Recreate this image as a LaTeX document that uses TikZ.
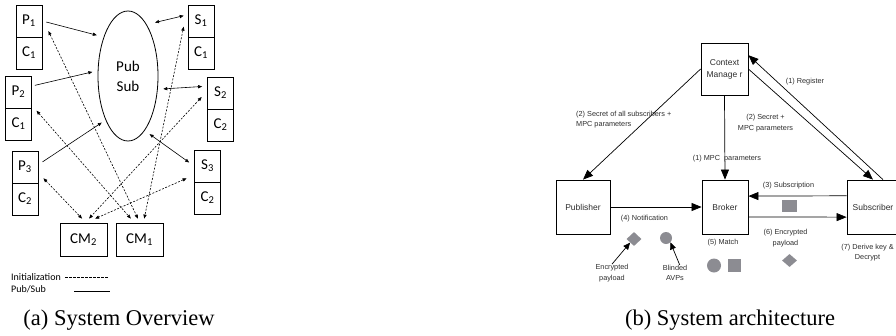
\documentclass[tikz,border=0pt]{standalone}
\usepackage{fontspec}
\newfontfamily\calibri{Carlito}
\newfontfamily\arialfont{Liberation Sans}
\newfontfamily\capfont{Liberation Serif}
\usetikzlibrary{arrows.meta,shapes.geometric,positioning}
\definecolor{tokengray}{RGB}{140,140,146}
\definecolor{textgray}{RGB}{45,45,45}

\begin{document}
\begin{tikzpicture}[x=1pt, y=-1pt, on grid,
  cell/.style={draw, line width=0.8pt, minimum width=26pt, minimum height=32pt,
    inner sep=0pt, font=\calibri\fontsize{15}{18}\selectfont},
  cmbox/.style={cell, minimum width=47pt, minimum height=33pt},
  ps/.style={line width=0.6pt, -{Triangle[length=4pt,width=3.2pt]}},
  psboth/.style={ps, {Triangle[length=4pt,width=3.2pt]}-{Triangle[length=4pt,width=3.2pt]}},
  init/.style={line width=0.6pt, dash pattern=on 2pt off 1.5pt,
    {Triangle[length=4pt,width=3.2pt]}-{Triangle[length=4pt,width=3.2pt]}},
  legend/.style={font=\calibri\fontsize{10}{12}\selectfont, inner sep=0pt, anchor=west},
  block/.style={draw, line width=0.8pt, inner sep=0pt, align=center, text=textgray,
    font=\arialfont\fontsize{8.5}{12}\selectfont},
  msg/.style={line width=0.7pt, -{Triangle[length=10pt,width=8pt]}},
  lbl/.style={font=\arialfont\fontsize{7.3}{10.5}\selectfont, text=textgray,
    align=center, inner sep=0pt},
  token/.style={fill=tokengray, inner sep=0pt},
  hint/.style={line width=0.7pt, -{Triangle[length=7pt,width=6pt]}},
  caption/.style={font=\capfont\fontsize{22.5}{27}\selectfont, anchor=base}]
\useasboundingbox (0,0) rectangle (896,335);

% (a) system overview
\node [draw, ellipse, line width=0.8pt, minimum width=60pt, minimum height=130pt,
  inner sep=0pt, align=center, font=\calibri\fontsize{15}{20}\selectfont] (pubsub) at (128,76) {Pub\\Sub};
\node [cell] (p_1) at (29,21) {P\textsubscript{1}};
\node [cell] (pc_1) [below = 32pt of p_1] {C\textsubscript{1}};
\node [cell] (p_2) at (18.5,92) {P\textsubscript{2}};
\node [cell] (pc_2) [below = 32pt of p_2] {C\textsubscript{1}};
\node [cell] (p_3) at (25,167) {P\textsubscript{3}};
\node [cell] (pc_3) [below = 32pt of p_3] {C\textsubscript{2}};
\node [cell] (s_1) at (201,21) {S\textsubscript{1}};
\node [cell] (sc_1) [below = 32pt of s_1] {C\textsubscript{1}};
\node [cell] (s_2) at (220.5,93) {S\textsubscript{2}};
\node [cell] (sc_2) [below = 32pt of s_2] {C\textsubscript{2}};
\node [cell] (s_3) at (207.5,166) {S\textsubscript{3}};
\node [cell] (sc_3) [below = 32pt of s_3] {C\textsubscript{2}};
\node [cmbox] (cm_2) at (83.5,239.5) {CM\textsubscript{2}};
\node [cmbox] (cm_1) [right = 56pt of cm_2] {CM\textsubscript{1}};

\path [ps]
(p_1.east) edge [shorten <=4pt, shorten >=7pt] (pubsub.122)
(p_2.24) edge [shorten <=3pt, shorten >=5.5pt] (pubsub.170)
(p_3.10) edge [shorten <=5pt, shorten >=4.5pt] (pubsub.-117);
\path [psboth]
(pubsub.70) edge [shorten <=8.5pt, shorten >=4pt] (s_1.155)
(pubsub.-24) edge [shorten <=5.5pt, shorten >=5pt] (s_2.153)
(pubsub.-73) edge [shorten <=6pt, shorten >=6pt] (s_3.west);
\path [init]
(p_1.11) edge [shorten <=14pt, shorten >=4.4pt] (cm_1.89)
(p_2.-45) edge [shorten <=7pt, shorten >=5.3pt] (cm_1.107)
(s_1.135) edge [shorten <=19.5pt, shorten >=4.1pt] (cm_1.77)
(p_3.-24) edge [shorten <=7.3pt, shorten >=5.5pt] (cm_2.82)
(s_2.172) edge [shorten <=8pt, shorten >=5.5pt] (cm_2.84)
(s_3.214) edge [shorten <=8.2pt, shorten >=9.8pt] (cm_2.81);

\node [legend] (lg_init) at (11,277) {Initialization};
\node [legend] (lg_ps) at (11,289) {Pub/Sub};
\coordinate (lg_init_a) at (65,277);
\coordinate (lg_init_b) at (109,277);
\coordinate (lg_ps_a) at (74,291);
\coordinate (lg_ps_b) at (110,291);
\draw [line width=0.6pt, dash pattern=on 2.5pt off 1.5pt] (lg_init_a) -- (lg_init_b);
\draw [line width=0.6pt] (lg_ps_a) -- (lg_ps_b);
\node [caption] (cap_a) at (119,325) {(a) System Overview};

% (b) system architecture
\node [block, minimum width=47pt, minimum height=52pt] (ctx) at (724.5,69) {Context\\Manage r};
\node [block, minimum width=54pt, minimum height=54pt] (pub) at (583,207) {Publisher};
\node [block, minimum width=46pt, minimum height=54pt] (brk) at (725,207) {Broker};
\node [block, minimum width=52pt, minimum height=54pt] (sub) at (873,207) {Subscriber};

\path [msg]
(ctx.west) edge (pub.north)
(ctx.south) edge (brk.north)
(ctx.east) edge (sub.north)
(sub.70) edge (ctx.30)
(sub.157) edge (brk.25.6)
(brk.-23.5) edge (sub.201)
(pub.east) edge (brk.west);

\node [lbl, align=left, anchor=west] (l_sec_all) at (576,119.5) {(2) Secret of all subscribers +\\MPC parameters};
\node [lbl] (l_sec) at (765.5,123) {(2) Secret +\\MPC parameters};
\node [lbl] (l_mpc) at (727,159) {(1) MPC\ \ parameters};
\node [lbl] (l_reg) at (805,82) {(1) Register};
\node [lbl] (l_subs) at (788.5,186) {(3) Subscription};
\node [lbl] (l_notif) at (644.5,219) {(4) Notification};
\node [lbl] (l_match) at (723,243) {(5) Match};
\node [lbl] (l_enc) at (785.5,238) {(6) Encrypted\\payload};
\node [lbl] (l_dec) at (867.5,252.5) {(7) Derive key \&\\Decrypt};
\node [lbl] (encl) at (612,273) {Encrypted\\payload};
\node [lbl] (blind) at (675,273) {Blinded\\AVPs};

\node [token, diamond, minimum width=15pt, minimum height=14pt] (dia_p) at (634,239) {};
\node [token, circle, minimum size=12pt] (dot_p) at (666,238) {};
\node [token, minimum width=15pt, minimum height=12pt] (sq_s) at (789.5,206) {};
\node [token, circle, minimum size=14pt] (dot_b) at (714,265.5) {};
\node [token, minimum size=13pt] (sq_b) at (734.5,265.5) {};
\node [token, diamond, minimum width=15pt, minimum height=13pt] (dia_b) at (789.5,260.5) {};

\path [hint]
(encl.north) edge (dia_p.south west)
(blind.60) edge (dot_p.south east);
\node [caption] (cap_b) at (730,325) {(b) System architecture};
\end{tikzpicture}
\end{document}
